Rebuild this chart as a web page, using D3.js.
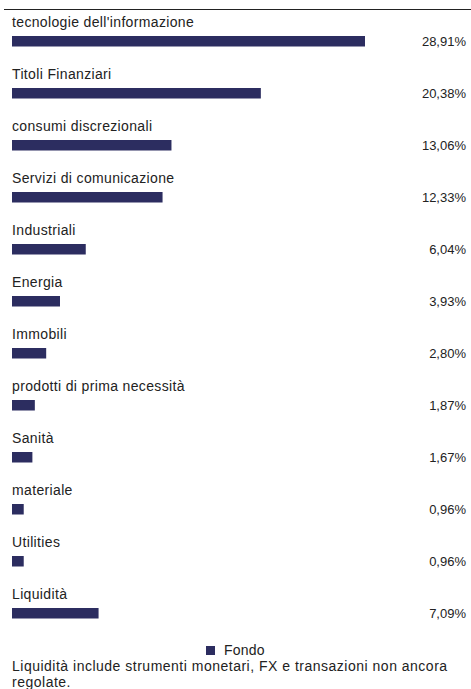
<!DOCTYPE html>
<html><head><meta charset="utf-8">
<script src="https://cdn.jsdelivr.net/npm/d3@7/dist/d3.min.js"></script>
<style>body{margin:0;background:#fff;} svg{display:block;}</style>
</head><body>
<svg id="c" width="471" height="689"></svg>
<script>
const categories = ["tecnologie dell'informazione","Titoli Finanziari","consumi discrezionali","Servizi di comunicazione","Industriali","Energia","Immobili","prodotti di prima necessità","Sanità","materiale","Utilities","Liquidità"];
const values = [28.91,20.38,13.06,12.33,6.04,3.93,2.80,1.87,1.67,0.96,0.96,7.09];
const valueLabels = ["28,91%","20,38%","13,06%","12,33%","6,04%","3,93%","2,80%","1,87%","1,67%","0,96%","0,96%","7,09%"];
const legendLabel = "Fondo";
const footLines = ["Liquidità include strumenti monetari, FX e transazioni non ancora","regolate."];

const svg = d3.select("#c");
const font = "'Liberation Sans', Arial, Helvetica, sans-serif";
const color = "#2c2d60";
const x = d3.scaleLinear().domain([0, 30]).range([12, 12 + 353/28.91*30]);
const y = d3.scaleBand().domain(categories).range([10, 10 + 52*categories.length]).padding(0);

svg.append("line").attr("x1",4).attr("x2",471).attr("y1",9.5).attr("y2",9.5).attr("stroke","#222").attr("stroke-width",1);

const row = svg.selectAll("g.row").data(categories).enter().append("g").attr("class","row");
row.append("text").attr("x",12).attr("y",d=>y(d)+17).text(d=>d)
  .attr("font-family",font).attr("font-size",14).attr("letter-spacing",0.35).attr("fill","#222");
row.append("rect").attr("x",x(0)).attr("y",d=>y(d)+26).attr("height",10.5)
  .attr("width",(d,i)=>x(values[i])-x(0)).attr("fill",color);
row.append("text").attr("x",466).attr("y",(d,i)=>y(d)+36).attr("text-anchor","end").text((d,i)=>valueLabels[i])
  .attr("font-family",font).attr("font-size",13).attr("fill","#222");

svg.append("rect").attr("x",206).attr("y",646).attr("width",9).attr("height",9).attr("fill",color);
svg.append("text").attr("x",224).attr("y",655).text(legendLabel).attr("font-family",font).attr("font-size",14).attr("letter-spacing",0.2).attr("fill","#222");
svg.selectAll("text.foot").data(footLines).enter().append("text").attr("class","foot")
  .attr("x",12).attr("y",(d,i)=>671+i*16).text(d=>d).attr("font-family",font).attr("font-size",14).attr("letter-spacing",0.5).attr("fill","#222");
</script>
</body></html>
